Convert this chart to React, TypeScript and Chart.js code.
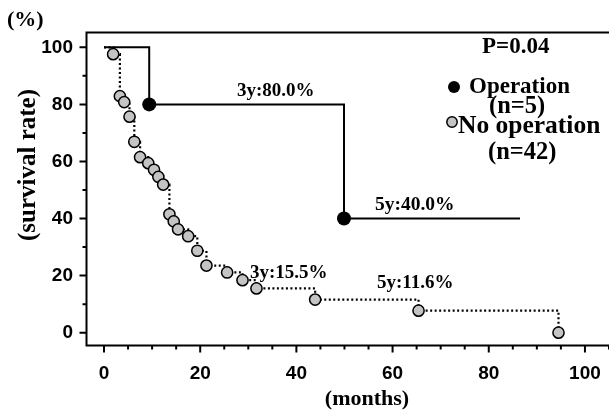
import React, { useEffect, useRef } from "react";
import { Chart, registerables } from "chart.js";

Chart.register(...registerables);

// Operation group (n=5): Kaplan-Meier steps
const opMonths = [0, 9.4, 49.9, 86.5];
const opSurvival = [100, 80, 40, 40];
const opEvent = [false, true, true, false];

// No operation group (n=42)
const noOpMonths = [
  0, 1.9, 3.3, 4.2, 5.3, 6.3, 7.5, 9.2, 10.4, 11.3, 12.3, 13.6, 14.5, 15.4,
  17.5, 19.4, 21.3, 25.6, 28.8, 31.7, 43.9, 65.4, 94.5,
];
const noOpSurvival = [
  100, 97.6, 82.9, 80.8, 75.7, 66.9, 61.5, 59.4, 57.1, 54.6, 51.9, 41.5, 39.0,
  36.2, 33.8, 28.7, 23.5, 21.1, 18.4, 15.5, 11.6, 7.7, 0,
];
const noOpEvent = noOpMonths.map((_, i) => i > 0);

const xTicks = [0, 20, 40, 60, 80, 100];
const xMinorTicks = [5, 10, 15, 25, 30, 35, 45, 50, 55, 65, 70, 75, 85, 90, 95, 105];
const yTicks = [0, 20, 40, 60, 80, 100];
const yMinorTicks = [10, 30, 50, 70, 90];

const SERIF = '"Liberation Serif", "Times New Roman", serif';
const SANS = '"Liberation Sans", Arial, sans-serif';

const decorPlugin = {
  id: "decor",
  afterDraw(chart: any) {
    const ctx = chart.ctx as CanvasRenderingContext2D;
    const { left, top, bottom } = chart.chartArea;
    const W = chart.width;
    const xs = chart.scales.x;
    const ys = chart.scales.y;
    ctx.save();
    ctx.strokeStyle = "#000";
    ctx.lineWidth = 2;
    ctx.beginPath();
    ctx.moveTo(W, top);
    ctx.lineTo(left, top);
    ctx.lineTo(left, bottom);
    ctx.lineTo(W, bottom);
    ctx.stroke();

    ctx.lineWidth = 2;
    ctx.beginPath();
    for (const v of yTicks) {
      const p = ys.getPixelForValue(v);
      ctx.moveTo(left - 7, p);
      ctx.lineTo(left, p);
    }
    for (const v of yMinorTicks) {
      const p = ys.getPixelForValue(v);
      ctx.moveTo(left - 4, p);
      ctx.lineTo(left, p);
    }
    for (const v of xTicks) {
      const p = xs.getPixelForValue(v);
      ctx.moveTo(p, bottom);
      ctx.lineTo(p, bottom + 7);
    }
    for (const v of xMinorTicks) {
      const p = xs.getPixelForValue(v);
      if (p > W) continue;
      ctx.moveTo(p, bottom);
      ctx.lineTo(p, bottom + 4);
    }
    ctx.stroke();

    ctx.fillStyle = "#000";
    ctx.textBaseline = "middle";
    ctx.textAlign = "left";
    const txt = (s: string, x: number, y: number, size: number) => {
      ctx.font = `bold ${size}px ${SERIF}`;
      ctx.fillText(s, x, y);
    };
    txt("(%)", 7, 20, 22);
    txt("P=0.04", 482, 47, 23);
    txt("Operation", 469, 87, 23);
    txt("(n=5)", 489, 107, 24.5);
    txt("No operation", 458, 126, 25.5);
    txt("(n=42)", 488, 153, 24.5);
    txt("3y:80.0%", 237, 91, 19);
    txt("5y:40.0%", 375, 205, 19.5);
    txt("3y:15.5%", 250, 273, 19);
    txt("5y:11.6%", 377, 283, 19);

    ctx.textAlign = "center";
    ctx.font = `bold 22px ${SERIF}`;
    ctx.fillText("(months)", 367, 399);

    ctx.save();
    ctx.translate(29, 165);
    ctx.rotate(-Math.PI / 2);
    ctx.font = `bold 25px ${SERIF}`;
    ctx.fillText("(survival rate)", 0, 0);
    ctx.restore();

    // legend markers
    ctx.beginPath();
    ctx.arc(454, 87, 6, 0, Math.PI * 2);
    ctx.fillStyle = "#000";
    ctx.fill();
    ctx.beginPath();
    ctx.arc(452, 122, 5.2, 0, Math.PI * 2);
    ctx.fillStyle = "#c4c4c4";
    ctx.fill();
    ctx.lineWidth = 1.5;
    ctx.strokeStyle = "#000";
    ctx.stroke();
    ctx.restore();
  },
};

export default function App() {
  const ref = useRef<HTMLCanvasElement | null>(null);
  useEffect(() => {
    if (!ref.current) return;
    const chart = new Chart(ref.current, {
      type: "line",
      data: {
        datasets: [
          {
            label: "Operation",
            data: opMonths.map((x, i) => ({ x, y: opSurvival[i] })),
            stepped: "before",
            borderColor: "#000",
            borderWidth: 2,
            pointRadius: opEvent.map((e) => (e ? 7 : 0)),
            pointBackgroundColor: "#000",
            pointBorderColor: "#000",
            pointBorderWidth: 0,
            fill: false,
          },
          {
            label: "No operation",
            data: noOpMonths.map((x, i) => ({ x, y: noOpSurvival[i] })),
            stepped: "before",
            borderColor: "#000",
            borderWidth: 2.2,
            borderDash: [2, 2.5],
            pointRadius: noOpEvent.map((e) => (e ? 5.6 : 0)),
            pointBackgroundColor: "#c4c4c4",
            pointBorderColor: "#000",
            pointBorderWidth: 1.5,
            fill: false,
          },
        ],
      } as any,
      options: {
        animation: false,
        responsive: true,
        maintainAspectRatio: false,
        layout: { autoPadding: false, padding: { top: 32.5, right: 0, left: 0, bottom: 0 } },
        plugins: {
          legend: { display: false },
          tooltip: { enabled: false },
          title: { display: false },
        },
        scales: {
          x: {
            type: "linear",
            min: -3.64,
            max: 105,
            afterBuildTicks: (s: any) => {
              s.ticks = xTicks.map((v) => ({ value: v }));
            },
            afterFit: (s: any) => {
              s.height = 66.5;
              s.paddingLeft = 0;
              s.paddingRight = 0;
            },
            grid: { display: false, drawTicks: false },
            border: { display: false },
            ticks: {
              padding: 17,
              color: "#000",
              maxRotation: 0,
              autoSkip: false,
              font: { family: SANS, size: 19, weight: "bold" },
            },
          },
          y: {
            type: "linear",
            min: -4.5,
            max: 105.2,
            afterBuildTicks: (s: any) => {
              s.ticks = yTicks.map((v) => ({ value: v }));
            },
            afterFit: (s: any) => {
              s.width = 86.5;
              s.paddingTop = 0;
              s.paddingBottom = 0;
            },
            grid: { display: false, drawTicks: false },
            border: { display: false },
            ticks: {
              padding: 13.5,
              color: "#000",
              autoSkip: false,
              font: { family: SANS, size: 19, weight: "bold" },
            },
          },
        },
      } as any,
      plugins: [decorPlugin],
    });
    return () => chart.destroy();
  }, []);
  return (
    <div style={{ position: "absolute", left: 0, top: 0, width: 609, height: 412, background: "#fff" }}>
      <canvas ref={ref} />
    </div>
  );
}
